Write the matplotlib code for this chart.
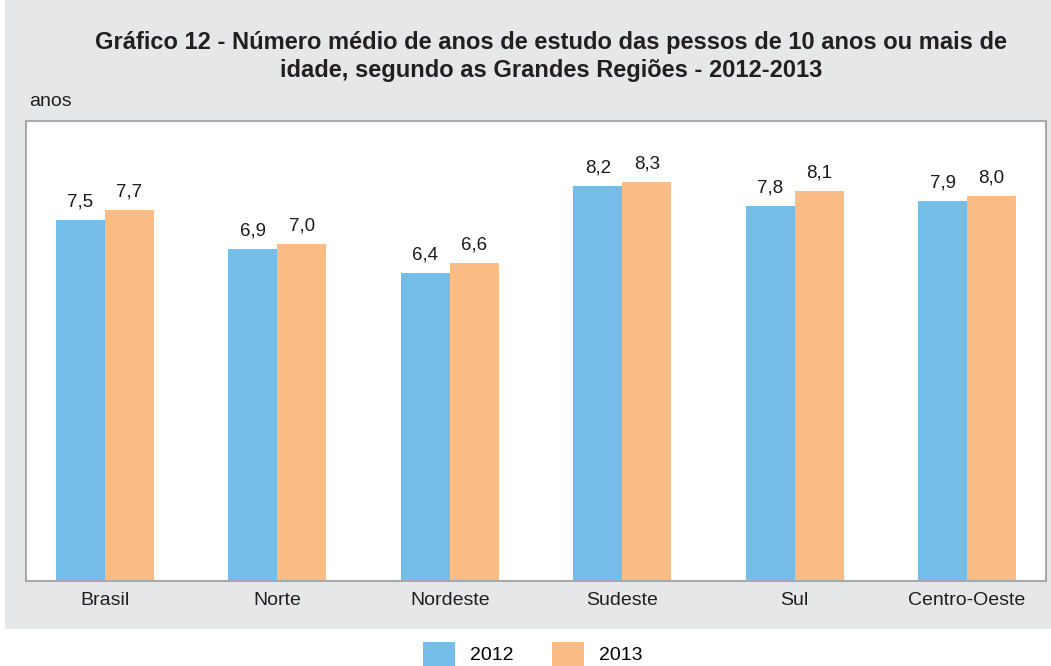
import numpy as np
import matplotlib.pyplot as plt
from matplotlib.patches import Rectangle

plt.rcParams['font.family'] = ['Liberation Sans', 'DejaVu Sans']

# Dados
regioes = ['Brasil', 'Norte', 'Nordeste', 'Sudeste', 'Sul', 'Centro-Oeste']
anos_2012 = [7.5, 6.9, 6.4, 8.2, 7.8, 7.9]
anos_2013 = [7.7, 7.0, 6.6, 8.3, 8.1, 8.0]

azul = '#74bde8'
laranja = '#fbbc86'
cinza = '#e6e7e8'

W, H = 1051, 666
fig = plt.figure(figsize=(W / 100, H / 100), dpi=100)
fig.patch.set_facecolor('white')

# fundo cinza
fig.patches.append(Rectangle((5 / W, (H - 629) / H), 1 - 5 / W, 629 / H,
                             transform=fig.transFigure, facecolor=cinza,
                             edgecolor='none', zorder=-10))

ax = fig.add_axes([26 / W, (H - 581) / H, (1046 - 26) / W, (581 - 121) / H])
ax.set_facecolor('white')

x = np.arange(len(regioes))
w = 0.284
b1 = ax.bar(x - w / 2, anos_2012, w, color=azul, label='2012')
b2 = ax.bar(x + w / 2, anos_2013, w, color=laranja, label='2013')

for bars, vals in ((b1, anos_2012), (b2, anos_2013)):
    for r, v in zip(bars, vals):
        ax.text(r.get_x() + r.get_width() / 2, v + 0.2, f'{v:.1f}'.replace('.', ','),
                ha='center', va='bottom', fontsize=13.5, color='#1a1a1a')

ax.set_xlim(-0.458, 5.458)
ax.set_ylim(0, 9.56)
ax.set_yticks([])
ax.set_xticks(x)
ax.set_xticklabels(regioes, fontsize=14, color='#231f20')
ax.tick_params(axis='x', length=0, pad=8)
for s in ax.spines.values():
    s.set_color('#a7a9ac')
    s.set_linewidth(1.5)

fig.text(551 / W, 1 - 42 / H,
         'Gráfico 12 - Número médio de anos de estudo das pessos de 10 anos ou mais de',
         ha='center', va='center', fontsize=17, fontweight='bold', color='#231f20')
fig.text(551 / W, 1 - 70 / H, 'idade, segundo as Grandes Regiões - 2012-2013',
         ha='center', va='center', fontsize=17, fontweight='bold', color='#231f20')
fig.text(29 / W, 1 - 101 / H, 'anos', ha='left', va='center', fontsize=14, color='#231f20')

fig.legend(handles=[b1, b2], labels=['2012', '2013'], loc='center',
           bbox_to_anchor=(533 / W, 1 - 654 / H), ncol=2, frameon=False,
           fontsize=14, handlelength=1.6, handleheight=1.6, handletextpad=0.8,
           columnspacing=2.0, borderpad=0)

fig.savefig('out.png', dpi=100, facecolor='white')
